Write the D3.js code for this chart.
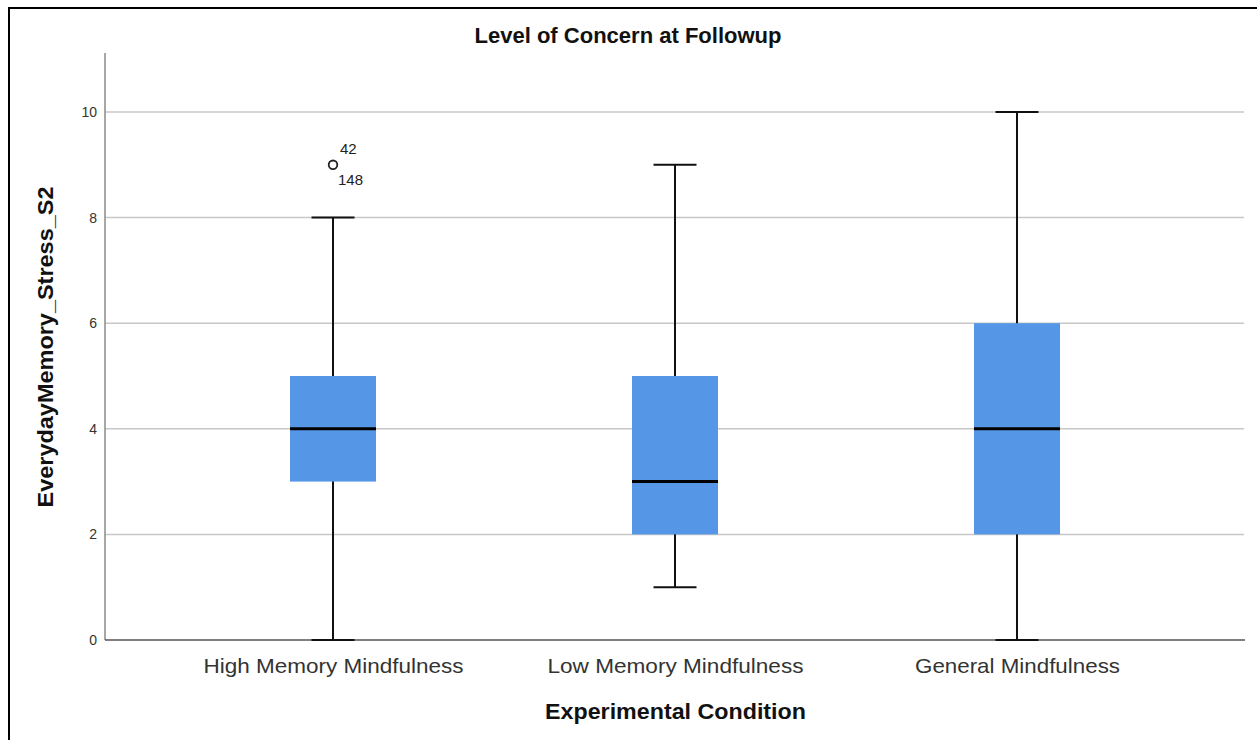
<!DOCTYPE html>
<html><head><meta charset="utf-8">
<script src="https://cdn.jsdelivr.net/npm/d3@7"></script>
<style>body{margin:0;background:#fff}svg{display:block}text{font-family:"Liberation Sans",Arial,sans-serif}</style>
</head><body><svg id="c" width="1257" height="740"></svg>
<script>
const categories = ["High Memory Mindfulness", "Low Memory Mindfulness", "General Mindfulness"];
const mins = [0, 1, 0];
const q1s = [3, 2, 2];
const medians = [4, 3, 4];
const q3s = [5, 5, 6];
const maxs = [8, 9, 10];
const outliers = [{cat: "High Memory Mindfulness", value: 9, labels: ["42", "148"]}];
const yTicks = [0, 2, 4, 6, 8, 10];
const title = "Level of Concern at Followup";
const xTitle = "Experimental Condition";
const yTitle = "EverydayMemory_Stress_S2";

const svg = d3.select("#c");
const L = 105, R = 1245, T = 53, B = 640;
const x = d3.scalePoint().domain(categories).range([L, R]).padding(0.6667);
const y = d3.scaleLinear().domain([0, 11.117]).range([B, T]);
const boxW = 86, capW = 43;

// frame
svg.append("path").attr("d", "M9,740V8H1257").attr("fill", "none").attr("stroke", "#000").attr("stroke-width", 2);

// title
svg.append("text").attr("x", 628).attr("y", 43).attr("text-anchor", "middle")
  .attr("font-size", 22).attr("font-weight", "bold").attr("fill", "#111")
  .attr("textLength", 307).attr("lengthAdjust", "spacingAndGlyphs").text(title);

// gridlines
svg.append("g").selectAll("line").data(yTicks.filter(d => d > 0)).join("line")
  .attr("x1", L).attr("x2", R - 1).attr("y1", d => y(d)).attr("y2", d => y(d))
  .attr("stroke", "#c8c8c8").attr("stroke-width", 1.5);

// y axis
const yAxis = svg.append("g").attr("transform", `translate(${L},0)`)
  .call(d3.axisLeft(y).tickValues(yTicks).tickSize(0).tickPadding(8));
yAxis.select(".domain").remove();
yAxis.selectAll("text").attr("font-size", 14).attr("fill", "#333").attr("font-family", "Liberation Sans, Arial, sans-serif");
svg.append("line").attr("x1", L).attr("x2", L).attr("y1", T).attr("y2", B).attr("stroke", "#8a8a8a").attr("stroke-width", 1.5);

// x axis
const labelW = {"High Memory Mindfulness": 260, "Low Memory Mindfulness": 256, "General Mindfulness": 205};
const xAxis = svg.append("g").attr("transform", `translate(0,${B})`)
  .call(d3.axisBottom(x).tickSize(0).tickPadding(14));
xAxis.select(".domain").remove();
xAxis.selectAll("text").attr("font-size", 21).attr("fill", "#333").attr("dy", null).attr("y", 33)
  .attr("font-family", "Liberation Sans, Arial, sans-serif")
  .attr("textLength", d => labelW[d]).attr("lengthAdjust", "spacingAndGlyphs");
svg.append("line").attr("x1", L).attr("x2", R).attr("y1", B).attr("y2", B).attr("stroke", "#555").attr("stroke-width", 1.5);

// boxes
const data = categories.map((c, i) => ({c, min: mins[i], q1: q1s[i], med: medians[i], q3: q3s[i], max: maxs[i]}));
const g = svg.append("g").selectAll("g").data(data).join("g");
g.append("line").attr("x1", d => x(d.c)).attr("x2", d => x(d.c)).attr("y1", d => y(d.max)).attr("y2", d => y(d.min))
  .attr("stroke", "#111").attr("stroke-width", 2);
g.append("line").attr("x1", d => x(d.c) - capW / 2).attr("x2", d => x(d.c) + capW / 2).attr("y1", d => y(d.max)).attr("y2", d => y(d.max))
  .attr("stroke", "#111").attr("stroke-width", 2);
g.append("line").attr("x1", d => x(d.c) - capW / 2).attr("x2", d => x(d.c) + capW / 2).attr("y1", d => y(d.min)).attr("y2", d => y(d.min))
  .attr("stroke", "#111").attr("stroke-width", 2);
g.append("rect").attr("x", d => x(d.c) - boxW / 2).attr("width", boxW).attr("y", d => y(d.q3)).attr("height", d => y(d.q1) - y(d.q3))
  .attr("fill", "#5596e6");
g.append("line").attr("x1", d => x(d.c) - boxW / 2).attr("x2", d => x(d.c) + boxW / 2).attr("y1", d => y(d.med)).attr("y2", d => y(d.med))
  .attr("stroke", "#000").attr("stroke-width", 3);

// outliers
outliers.forEach(o => {
  const cx = x(o.cat), cy = y(o.value);
  svg.append("circle").attr("cx", cx).attr("cy", cy).attr("r", 4.3).attr("fill", "none").attr("stroke", "#222").attr("stroke-width", 1.8);
  svg.append("text").attr("x", cx + 7).attr("y", cy - 11).attr("font-size", 15).attr("fill", "#222").text(o.labels[0]);
  svg.append("text").attr("x", cx + 5).attr("y", cy + 20).attr("font-size", 15).attr("fill", "#222").text(o.labels[1]);
});

// axis titles
svg.append("text").attr("x", 675.5).attr("y", 719).attr("text-anchor", "middle")
  .attr("font-size", 22).attr("font-weight", "bold").attr("fill", "#111")
  .attr("textLength", 261).attr("lengthAdjust", "spacingAndGlyphs").text(xTitle);
svg.append("text").attr("transform", `translate(53,347) rotate(-90)`).attr("text-anchor", "middle")
  .attr("font-size", 22).attr("font-weight", "bold").attr("fill", "#111")
  .attr("textLength", 321).attr("lengthAdjust", "spacingAndGlyphs").text(yTitle);
</script></body></html>
